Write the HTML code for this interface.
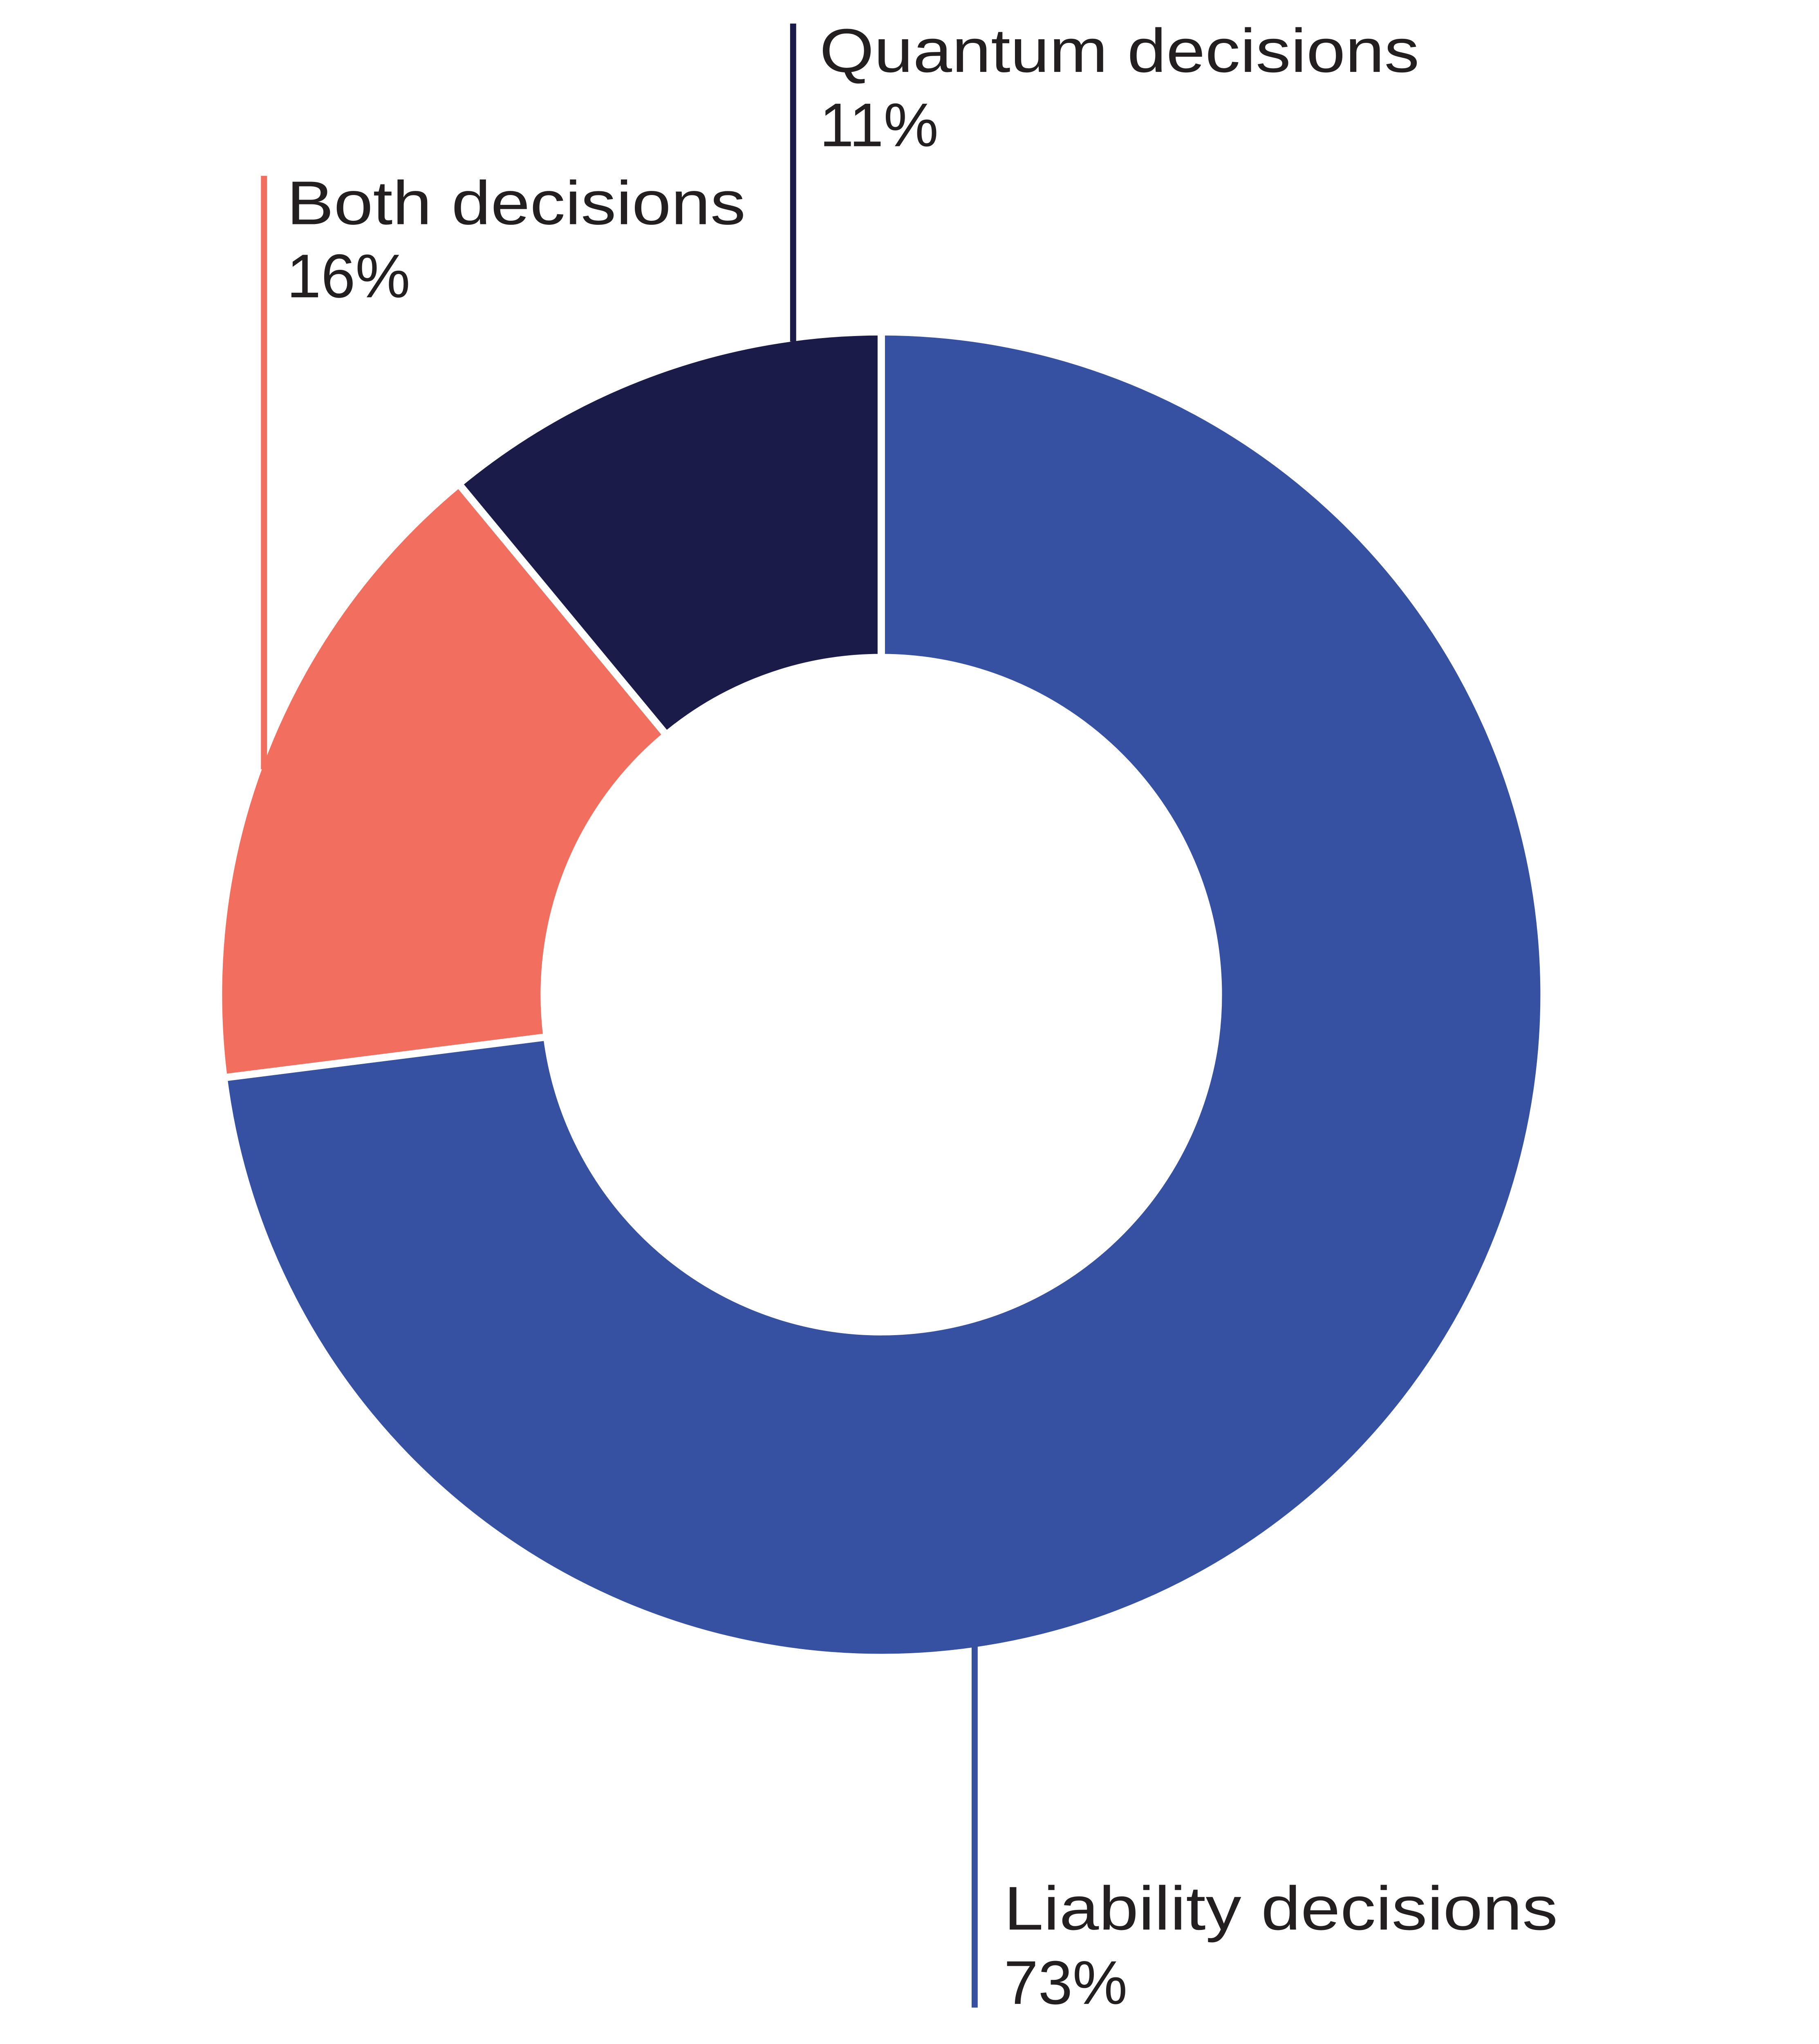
<!DOCTYPE html>
<html><head><meta charset="utf-8"><style>html,body{margin:0;padding:0;background:#fff;width:4450px;height:5072px;overflow:hidden}svg{display:block}</style></head>
<body>
<svg width="4450" height="5072" viewBox="0 0 4450 5072" xmlns="http://www.w3.org/2000/svg" overflow="hidden">
<rect width="4450" height="5072" fill="#fff"/>
<g transform="scale(0.9935)">
<g stroke="#fff" stroke-width="18" stroke-linejoin="miter">
<path d="M2170 817 A1632 1632 0 1 1 550.9 2653.5 L1346.6 2553 A830 830 0 1 0 2170 1619 Z" fill="#3650a2"/>
<path d="M550.9 2653.5 A1632 1632 0 0 1 1129.7 1191.5 L1640.9 1809.5 A830 830 0 0 0 1346.6 2553 Z" fill="#f26f5f"/>
<path d="M1129.7 1191.5 A1632 1632 0 0 1 2170 817 L2170 1619 A830 830 0 0 0 1640.9 1809.5 Z" fill="#1b1b4a"/>
</g>
<line x1="1953" y1="58" x2="1953" y2="841" stroke="#1b1b4a" stroke-width="15"/>
<line x1="650" y1="433" x2="650" y2="1894" stroke="#f26f5f" stroke-width="15"/>
<line x1="2400" y1="3788" x2="2400" y2="4943" stroke="#3650a2" stroke-width="15"/>
<g font-family="Liberation Sans, sans-serif" font-size="152" fill="#231f20">
<text x="2018" y="177" textLength="1477" lengthAdjust="spacingAndGlyphs">Quantum decisions</text>
<text x="2018" y="360">11%</text>
<text x="706" y="552" textLength="1130" lengthAdjust="spacingAndGlyphs">Both decisions</text>
<text x="706" y="732">16%</text>
<text x="2472" y="4751" textLength="1364" lengthAdjust="spacingAndGlyphs">Liability decisions</text>
<text x="2472" y="4934">73%</text>
</g>
</g>
</svg>
</body></html>
